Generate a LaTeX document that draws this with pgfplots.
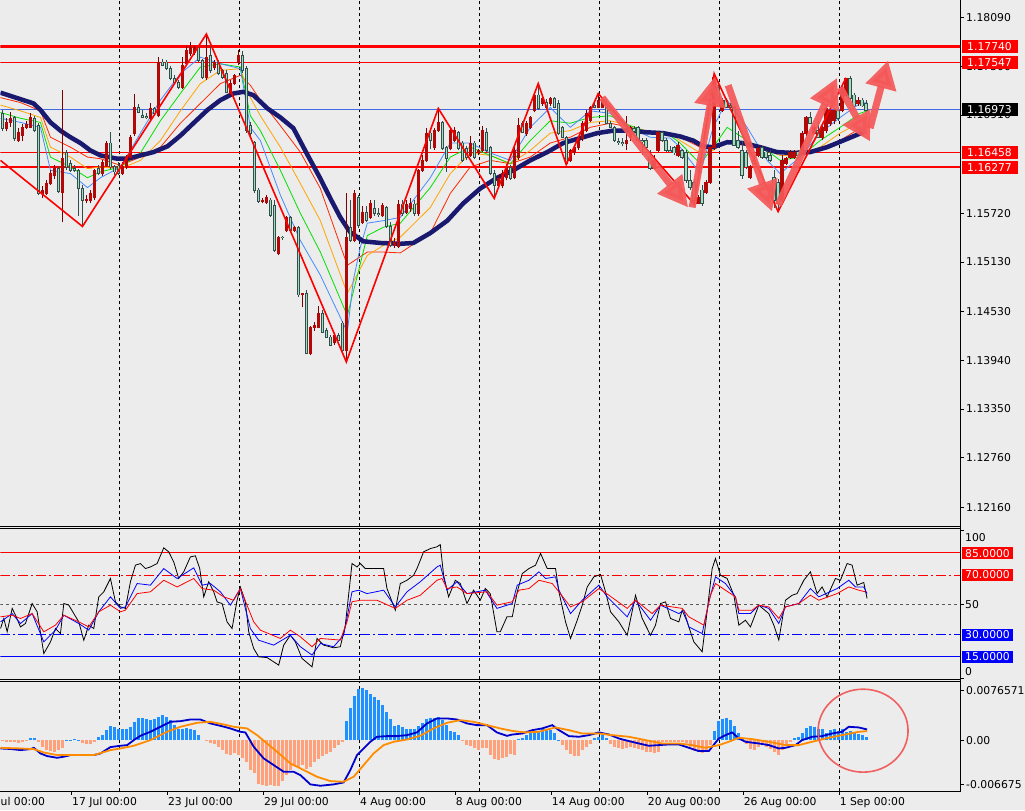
\documentclass[border=0pt]{standalone}
\usepackage{pgfplots}
\pgfplotsset{compat=1.18}
\usepackage{pgfplotstable}
\usepackage{fontspec}
\setmainfont{DejaVu Sans}
\usetikzlibrary{arrows.meta}
\definecolor{bgc}{RGB}{236,236,236}
\definecolor{bullc}{RGB}{178,8,8}
\definecolor{bullw}{RGB}{125,0,0}
\definecolor{bearc}{RGB}{165,220,185}
\definecolor{bearw}{RGB}{47,79,79}
\definecolor{navyma}{RGB}{25,25,112}
\definecolor{rbblue}{RGB}{70,140,255}
\definecolor{rbgreen}{RGB}{0,225,0}
\definecolor{rborange}{RGB}{255,165,0}
\definecolor{rbred}{RGB}{255,40,0}
\definecolor{arrowc}{RGB}{245,88,88}
\definecolor{lvlblue}{RGB}{65,105,225}
\definecolor{macdline}{RGB}{0,0,205}
\definecolor{sigline}{RGB}{255,140,0}
\definecolor{histpos}{RGB}{30,144,255}
\definecolor{histneg}{RGB}{255,160,122}
\definecolor{circc}{RGB}{240,96,96}
\newcommand\labfont{\fontsize{10.8pt}{13pt}\selectfont}
\pgfplotsset{mt/.style={
  anchor=north west, scale only axis, width=960pt,
  xmin=-0.5, xmax=239.5,
  axis line style={draw=none},
  tick align=outside, major tick length=4pt,
  tick style={black, line width=0.8pt},
  ytick pos=right, yticklabel pos=right,
  xtick=\empty,
  extra x ticks={29.25,59.25,89.25,119.25,149.25,179.25,209.25},
  extra x tick labels={},
  extra x tick style={grid=major, major tick length=0pt},
  major grid style={black, line width=0.8pt, dash pattern=on 3pt off 3pt},
  yticklabel style={font=\labfont, inner sep=0pt, anchor=west, xshift=2pt},
  scaled y ticks=false,
}}
% bearish candles (close below open): index, open, high, low, close
\pgfplotstableread{
xi op hi lo cl
0 1.1693 1.1697 1.1671 1.1675
3 1.1688 1.1690 1.1660 1.1663
8 1.1687 1.1690 1.1670 1.1672
9 1.1678 1.1681 1.1594 1.1596
14 1.1626 1.1629 1.1596 1.1598
16 1.1645 1.1648 1.1624 1.1627
17 1.1632 1.1636 1.1622 1.1624
18 1.1626 1.1630 1.1622 1.1624
19 1.1624 1.1626 1.1569 1.1602
20 1.1602 1.1606 1.1556 1.1588
24 1.1626 1.1630 1.1618 1.1620
27 1.1657 1.1670 1.1626 1.1628
28 1.1628 1.1630 1.1618 1.1622
29 1.1629 1.1634 1.1618 1.1620
34 1.1700 1.1704 1.1693 1.1694
35 1.1690 1.1697 1.1687 1.1688
36 1.1689 1.1693 1.1686 1.1688
38 1.1699 1.1701 1.1690 1.1693
40 1.1755 1.1759 1.1750 1.1751
41 1.1755 1.1757 1.1745 1.1747
42 1.1747 1.1750 1.1733 1.1735
43 1.1735 1.1739 1.1729 1.1730
44 1.1730 1.1733 1.1723 1.1724
49 1.1773 1.1776 1.1755 1.1757
50 1.1757 1.1759 1.1735 1.1736
52 1.1763 1.1775 1.1742 1.1745
54 1.1755 1.1757 1.1739 1.1741
55 1.1745 1.1747 1.1735 1.1736
56 1.1741 1.1745 1.1717 1.1718
60 1.1763 1.1769 1.1742 1.1745
61 1.1747 1.1750 1.1669 1.1672
62 1.1678 1.1682 1.1666 1.1669
63 1.1658 1.1660 1.1596 1.1600
64 1.1600 1.1602 1.1585 1.1586
67 1.1588 1.1590 1.1568 1.1569
68 1.1581 1.1588 1.1525 1.1527
70 1.1543 1.1545 1.1539 1.1543
72 1.1567 1.1569 1.1550 1.1551
74 1.1555 1.1557 1.1471 1.1473
76 1.1475 1.1479 1.1401 1.1402
80 1.1451 1.1455 1.1427 1.1428
81 1.1430 1.1433 1.1421 1.1422
82 1.1422 1.1424 1.1411 1.1412
84 1.1424 1.1427 1.1417 1.1418
85 1.1439 1.1442 1.1405 1.1406
87 1.1555 1.1588 1.1537 1.1539
89 1.1591 1.1594 1.1554 1.1557
91 1.1573 1.1581 1.1561 1.1563
93 1.1578 1.1588 1.1569 1.1572
94 1.1572 1.1578 1.1568 1.1571
96 1.1579 1.1581 1.1554 1.1556
97 1.1556 1.1561 1.1531 1.1533
100 1.1583 1.1588 1.1569 1.1572
103 1.1583 1.1588 1.1569 1.1572
107 1.1669 1.1672 1.1650 1.1660
110 1.1682 1.1684 1.1648 1.1650
111 1.1652 1.1654 1.1622 1.1638
114 1.1670 1.1672 1.1648 1.1650
115 1.1657 1.1660 1.1634 1.1636
116 1.1650 1.1654 1.1636 1.1640
118 1.1657 1.1660 1.1638 1.1640
121 1.1670 1.1675 1.1646 1.1648
122 1.1652 1.1654 1.1618 1.1620
123 1.1620 1.1624 1.1590 1.1606
127 1.1627 1.1630 1.1612 1.1614
130 1.1681 1.1684 1.1670 1.1670
134 1.1715 1.1729 1.1697 1.1699
136 1.1706 1.1710 1.1699 1.1700
138 1.1711 1.1713 1.1699 1.1700
139 1.1705 1.1709 1.1667 1.1669
140 1.1676 1.1678 1.1663 1.1664
141 1.1664 1.1666 1.1631 1.1632
148 1.1702 1.1705 1.1699 1.1700
151 1.1705 1.1709 1.1680 1.1681
152 1.1681 1.1684 1.1675 1.1676
153 1.1676 1.1678 1.1658 1.1660
154 1.1659 1.1663 1.1655 1.1658
155 1.1658 1.1663 1.1653 1.1657
158 1.1675 1.1678 1.1669 1.1671
159 1.1676 1.1678 1.1658 1.1660
160 1.1660 1.1663 1.1642 1.1659
161 1.1660 1.1663 1.1648 1.1652
162 1.1640 1.1648 1.1624 1.1626
165 1.1670 1.1672 1.1658 1.1660
166 1.1660 1.1663 1.1646 1.1648
167 1.1648 1.1654 1.1646 1.1647
168 1.1652 1.1654 1.1642 1.1645
170 1.1648 1.1650 1.1638 1.1640
171 1.1645 1.1648 1.1609 1.1612
172 1.1612 1.1624 1.1600 1.1603
173 1.1609 1.1614 1.1583 1.1588
175 1.1600 1.1606 1.1581 1.1584
179 1.1724 1.1727 1.1706 1.1709
181 1.1709 1.1711 1.1699 1.1700
182 1.1702 1.1706 1.1699 1.1700
183 1.1700 1.1702 1.1653 1.1654
184 1.1660 1.1672 1.1650 1.1652
185 1.1648 1.1660 1.1614 1.1618
186 1.1645 1.1648 1.1626 1.1628
188 1.1636 1.1642 1.1630 1.1632
190 1.1652 1.1654 1.1638 1.1640
191 1.1646 1.1648 1.1638 1.1640
192 1.1642 1.1648 1.1634 1.1636
193 1.1615 1.1624 1.1578 1.1588
194 1.1609 1.1614 1.1574 1.1584
199 1.1646 1.1648 1.1641 1.1642
202 1.1688 1.1694 1.1680 1.1681
204 1.1672 1.1684 1.1663 1.1664
209 1.1697 1.1699 1.1684 1.1687
212 1.1735 1.1738 1.1709 1.1711
213 1.1715 1.1717 1.1701 1.1702
215 1.1709 1.1712 1.1701 1.1702
216 1.1705 1.1709 1.1694 1.1697
}\bearcandles
% bullish candles (close above open): index, open, high, low, close
\pgfplotstableread{
xi op hi lo cl
1 1.1675 1.1687 1.1671 1.1682
2 1.1682 1.1694 1.1677 1.1687
4 1.1660 1.1675 1.1658 1.1670
5 1.1666 1.1680 1.1659 1.1676
6 1.1676 1.1684 1.1674 1.1680
7 1.1676 1.1693 1.1675 1.1688
10 1.1596 1.1605 1.1591 1.1600
11 1.1596 1.1612 1.1594 1.1608
12 1.1608 1.1624 1.1606 1.1620
13 1.1618 1.1630 1.1614 1.1626
15 1.1597 1.1721 1.1561 1.1638
21 1.1588 1.1594 1.1584 1.1589
22 1.1588 1.1600 1.1585 1.1596
23 1.1591 1.1626 1.1588 1.1624
25 1.1620 1.1636 1.1617 1.1634
26 1.1630 1.1660 1.1628 1.1657
30 1.1620 1.1634 1.1618 1.1628
31 1.1628 1.1642 1.1625 1.1640
32 1.1640 1.1667 1.1637 1.1664
33 1.1669 1.1716 1.1666 1.1700
37 1.1687 1.1705 1.1684 1.1699
39 1.1690 1.1761 1.1688 1.1755
45 1.1724 1.1761 1.1722 1.1751
46 1.1753 1.1775 1.1751 1.1769
47 1.1766 1.1779 1.1763 1.1773
48 1.1767 1.1775 1.1764 1.1773
51 1.1736 1.1789 1.1733 1.1761
53 1.1749 1.1757 1.1745 1.1755
57 1.1717 1.1733 1.1715 1.1729
58 1.1729 1.1741 1.1727 1.1739
59 1.1755 1.1770 1.1752 1.1763
65 1.1586 1.1590 1.1584 1.1588
66 1.1585 1.1594 1.1583 1.1591
69 1.1523 1.1545 1.1521 1.1543
71 1.1551 1.1569 1.1549 1.1567
73 1.1551 1.1557 1.1549 1.1555
75 1.1473 1.1476 1.1458 1.1475
77 1.1402 1.1436 1.1400 1.1434
78 1.1434 1.1440 1.1430 1.1436
79 1.1434 1.1460 1.1433 1.1451
83 1.1415 1.1427 1.1412 1.1424
86 1.1406 1.1597 1.1392 1.1543
88 1.1539 1.1600 1.1537 1.1596
90 1.1561 1.1581 1.1559 1.1573
92 1.1567 1.1588 1.1565 1.1584
95 1.1569 1.1584 1.1567 1.1581
98 1.1533 1.1542 1.1530 1.1537
99 1.1532 1.1588 1.1530 1.1583
101 1.1573 1.1588 1.1571 1.1583
102 1.1578 1.1590 1.1574 1.1584
104 1.1572 1.1626 1.1569 1.1624
105 1.1624 1.1642 1.1622 1.1636
106 1.1636 1.1675 1.1634 1.1669
108 1.1652 1.1675 1.1649 1.1672
109 1.1672 1.1699 1.1670 1.1682
112 1.1650 1.1677 1.1648 1.1672
113 1.1660 1.1677 1.1658 1.1672
117 1.1642 1.1666 1.1640 1.1657
119 1.1645 1.1650 1.1642 1.1648
120 1.1648 1.1678 1.1646 1.1672
124 1.1606 1.1618 1.1603 1.1614
125 1.1606 1.1624 1.1602 1.1620
126 1.1615 1.1632 1.1612 1.1627
128 1.1615 1.1654 1.1613 1.1648
129 1.1640 1.1687 1.1637 1.1678
131 1.1669 1.1684 1.1666 1.1681
132 1.1676 1.1690 1.1674 1.1688
133 1.1697 1.1717 1.1694 1.1715
135 1.1705 1.1713 1.1702 1.1711
137 1.1705 1.1713 1.1702 1.1711
142 1.1636 1.1650 1.1634 1.1648
143 1.1646 1.1654 1.1643 1.1652
144 1.1652 1.1665 1.1649 1.1663
145 1.1663 1.1684 1.1660 1.1681
146 1.1672 1.1697 1.1670 1.1693
147 1.1684 1.1702 1.1682 1.1700
149 1.1700 1.1717 1.1699 1.1709
150 1.1700 1.1711 1.1699 1.1709
156 1.1657 1.1690 1.1648 1.1660
157 1.1664 1.1678 1.1660 1.1676
163 1.1626 1.1642 1.1624 1.1636
164 1.1648 1.1672 1.1646 1.1670
169 1.1642 1.1658 1.1640 1.1654
174 1.1584 1.1594 1.1583 1.1591
176 1.1597 1.1612 1.1595 1.1609
177 1.1609 1.1654 1.1607 1.1652
178 1.1652 1.1741 1.1649 1.1736
180 1.1697 1.1711 1.1694 1.1709
187 1.1615 1.1630 1.1613 1.1628
189 1.1642 1.1654 1.1640 1.1650
195 1.1588 1.1642 1.1585 1.1636
196 1.1632 1.1640 1.1630 1.1638
197 1.1640 1.1648 1.1638 1.1646
198 1.1640 1.1648 1.1638 1.1646
200 1.1645 1.1672 1.1642 1.1669
201 1.1669 1.1690 1.1666 1.1688
203 1.1669 1.1678 1.1668 1.1676
205 1.1664 1.1678 1.1661 1.1676
206 1.1672 1.1702 1.1669 1.1699
207 1.1681 1.1699 1.1678 1.1697
208 1.1684 1.1699 1.1680 1.1696
210 1.1697 1.1727 1.1694 1.1723
211 1.1715 1.1736 1.1713 1.1735
214 1.1705 1.1713 1.1702 1.1709
}\bullcandles
\pgfplotstableread{
i v
0 -0.0001
1 -0.0002
2 -0.0002
3 -0.0003
4 -0.0004
5 -0.0003
6 -0.0001
7 0.0003
8 0.0003
9 -0.0002
10 -0.0010
11 -0.0014
12 -0.0016
13 -0.0017
14 -0.0015
15 -0.0012
16 0.00005
17 0.0001
18 0.0002
19 0.0001
20 -0.0004
21 -0.0006
22 -0.0006
23 -0.0003
24 0.0005
25 0.0009
26 0.0016
27 0.0022
28 0.0020
29 0.0018
30 0.0017
31 0.0017
32 0.0021
33 0.0028
34 0.0034
35 0.0034
36 0.0032
37 0.0031
38 0.0033
39 0.0036
40 0.0039
41 0.0036
42 0.0031
43 0.0024
44 0.0018
45 0.0017
46 0.0019
47 0.0018
48 0.0016
49 0.0009
50 0
51 -0.0001
52 -0.0004
53 -0.0006
54 -0.0010
55 -0.0014
56 -0.0020
57 -0.0022
58 -0.0019
59 -0.0022
60 -0.0027
61 -0.0033
62 -0.0045
63 -0.0050
64 -0.0066
65 -0.0068
66 -0.0069
67 -0.0068
68 -0.0070
69 -0.0069
70 -0.0062
71 -0.0053
72 -0.0045
73 -0.0038
74 -0.0040
75 -0.0037
76 -0.0044
77 -0.0040
78 -0.0033
79 -0.0028
80 -0.0023
81 -0.0020
82 -0.0018
83 -0.0012
84 -0.0007
85 -0.0002
86 0.0030
87 0.0050
88 0.0068
89 0.0078
90 0.0080
91 0.0077
92 0.0071
93 0.0066
94 0.0061
95 0.0054
96 0.0044
97 0.0033
98 0.0022
99 0.0023
100 0.0021
101 0.0018
102 0.0017
103 0.0018
104 0.0022
105 0.0027
106 0.0033
107 0.0034
108 0.0034
109 0.0036
110 0.0031
111 0.0024
112 0.0015
113 0.0013
114 0.0008
115 -0.0001
116 -0.0007
117 -0.0009
118 -0.0011
119 -0.0014
120 -0.0012
121 -0.0011
122 -0.0022
123 -0.0029
124 -0.0030
125 -0.0027
126 -0.0025
127 -0.0020
128 -0.0022
129 0.0002
130 0.0003
131 0.0008
132 0.0011
133 0.0013
134 0.0014
135 0.0018
136 0.0018
137 0.0016
138 0.0011
139 0.0001
140 -0.0007
141 -0.0015
142 -0.0021
143 -0.0023
144 -0.0023
145 -0.0015
146 -0.0010
147 -0.0005
148 0.0003
149 0.0005
150 0.0008
151 0.0003
152 -0.0005
153 -0.0010
154 -0.0012
155 -0.0013
156 -0.0012
157 -0.0010
158 -0.0012
159 -0.0013
160 -0.0014
161 -0.0017
162 -0.0018
163 -0.0019
164 -0.0018
165 -0.0003
166 -0.0003
167 -0.0002
168 -0.0003
169 -0.0002
170 -0.0003
171 -0.0004
172 -0.0010
173 -0.0016
174 -0.0018
175 -0.0019
176 -0.0015
177 -0.0007
178 0.0014
179 0.0029
180 0.0033
181 0.0034
182 0.0031
183 0.0022
184 0.0012
185 0.0003
186 -0.0005
187 -0.0013
188 -0.0015
189 -0.0010
190 -0.0007
191 -0.0010
192 -0.0013
193 -0.0018
194 -0.0022
195 -0.0015
196 -0.0008
197 -0.0003
198 0.0003
199 0.0005
200 0.0012
201 0.0019
202 0.0022
203 0.0021
204 0.0018
205 0.0017
206 0.0011
207 0.0016
208 0.0017
209 0.0014
210 0.0017
211 0.0013
212 0.0015
213 0.0012
214 0.0010
215 0.0008
216 0.0005
}\macdhisttab
\begin{document}
\begin{tikzpicture}
\fill[bgc] (0pt,0pt) rectangle (1025pt,-810pt);
% ---------------- main price panel
\begin{axis}[mt, at={(0pt,0pt)}, height=526pt, ymin=1.11930, ymax=1.18296,
  ytick={1.12160,1.12760,1.13350,1.13940,1.14530,1.15130,1.15720,1.16910,1.17500,1.18090},
  yticklabels={1.12160,1.12760,1.13350,1.13940,1.14530,1.15130,1.15720,1.16910,1.17500,1.18090}]
\addplot[red, line width=2.2pt] coordinates {(-0.5,1.17740) (239.5,1.17740)};
\addplot[red, line width=1pt] coordinates {(-0.5,1.17547) (239.5,1.17547)};
\addplot[lvlblue, line width=0.9pt] coordinates {(-0.5,1.16973) (239.5,1.16973)};
\addplot[red, line width=1pt] coordinates {(-0.5,1.16458) (239.5,1.16458)};
\addplot[red, line width=2.2pt] coordinates {(-0.5,1.16277) (239.5,1.16277)};
\addplot[rbred, line width=0.8pt] coordinates {(-0.5,1.1712)(4.5,1.1706)(9.5,1.1696)(12,1.1664)(17,1.1652)(21.25,1.1640)(24.5,1.1638)(29.5,1.1630)(34.5,1.1640)(39.5,1.1652)(44.5,1.1681)(49.5,1.1705)(54.5,1.1729)(59.5,1.1739)(62,1.1727)(64.5,1.1709)(69.5,1.1678)(74.5,1.1646)(79.5,1.1602)(86.25,1.1509)(91.25,1.1525)(95.25,1.1525)(99.5,1.1524)(107,1.1548)(112,1.1596)(117,1.1628)(122,1.1636)(127,1.1632)(132,1.1640)(137,1.1657)(142,1.1664)(147,1.1676)(152,1.1681)(157,1.1676)(162,1.1670)(167,1.1666)(169.5,1.1664)(174.5,1.1652)(177.75,1.1654)(181.25,1.1657)(186.25,1.1654)(191.25,1.1648)(194.5,1.1645)(199.5,1.1642)(204.5,1.1651)(209.5,1.1660)(214.5,1.1675)(216.25,1.1676)};
\addplot[rborange, line width=0.8pt] coordinates {(-0.5,1.1703)(4.5,1.1696)(9.5,1.1688)(12,1.1652)(17,1.1640)(21.25,1.1626)(24.5,1.1628)(29.5,1.1626)(34.5,1.1636)(39.5,1.1660)(44.5,1.1696)(49.5,1.1729)(54.5,1.1745)(59.5,1.1747)(62,1.1712)(64.5,1.1690)(69.5,1.1652)(74.5,1.1608)(79.5,1.1563)(86.25,1.1475)(91.25,1.1521)(95.25,1.1533)(99.5,1.1543)(107,1.1579)(112,1.1620)(117,1.1645)(122,1.1642)(127,1.1632)(132,1.1648)(137,1.1669)(142,1.1672)(147,1.1682)(152,1.1684)(157,1.1678)(162,1.1670)(167,1.1669)(169.5,1.1660)(174.5,1.1645)(177.75,1.1648)(181.25,1.1660)(186.25,1.1657)(191.25,1.1648)(194.5,1.1642)(199.5,1.1642)(204.5,1.1652)(209.5,1.1669)(214.5,1.1682)(216.25,1.1687)};
\addplot[rbgreen, line width=0.8pt] coordinates {(-0.5,1.1694)(4.5,1.1687)(9.5,1.1682)(12,1.1640)(17,1.1628)(21.25,1.1615)(24.5,1.1622)(29.5,1.1628)(34.5,1.1645)(39.5,1.1684)(44.5,1.1717)(49.5,1.1749)(54.5,1.1753)(59.5,1.1749)(62,1.1690)(64.5,1.1672)(69.5,1.1624)(74.5,1.1572)(79.5,1.1525)(86.25,1.1448)(91.25,1.1545)(95.25,1.1555)(99.5,1.1560)(107,1.1603)(112,1.1640)(117,1.1652)(122,1.1642)(127,1.1632)(132,1.1660)(137,1.1684)(142,1.1681)(147,1.1688)(152,1.1690)(157,1.1678)(162,1.1669)(167,1.1666)(169.5,1.1657)(174.5,1.1632)(177.75,1.1652)(181.25,1.1676)(186.25,1.1660)(191.25,1.1648)(194.5,1.1636)(199.5,1.1640)(204.5,1.1660)(209.5,1.1676)(214.5,1.1693)(216.25,1.1696)};
\addplot[rbblue, line width=0.8pt] coordinates {(-0.5,1.1687)(4.5,1.1682)(9.5,1.1676)(12,1.1624)(17,1.1620)(21.25,1.1603)(24.5,1.1615)(29.5,1.1628)(34.5,1.1669)(39.5,1.1709)(44.5,1.1741)(49.5,1.1761)(54.5,1.1753)(59.5,1.1747)(62,1.1676)(64.5,1.1660)(69.5,1.1594)(74.5,1.1539)(79.5,1.1497)(86.25,1.1428)(87.75,1.1491)(89.5,1.1531)(91.25,1.1560)(95.25,1.1563)(99.5,1.1567)(107,1.1615)(112,1.1657)(117,1.1657)(122,1.1645)(127,1.1636)(132,1.1676)(137,1.1700)(142,1.1676)(147,1.1696)(152,1.1693)(157,1.1676)(162,1.1664)(167,1.1663)(169.5,1.1652)(174.5,1.1620)(177.75,1.1676)(181.25,1.1709)(186.25,1.1676)(191.25,1.1636)(194.5,1.1620)(199.5,1.1640)(204.5,1.1669)(209.5,1.1688)(214.5,1.1705)(216.25,1.1706)};
\addplot[navyma, line width=4.5pt] coordinates {(-0.5,1.1718)(7.75,1.1705)(9.5,1.1697)(12,1.1682)(14.5,1.1672)(17,1.1664)(19.5,1.1657)(22,1.1648)(24.5,1.1642)(28.75,1.1638)(31.25,1.1638)(34.5,1.1642)(37.75,1.1646)(41.25,1.1653)(44.5,1.1666)(47.75,1.1681)(51.25,1.1697)(54.5,1.1709)(57.75,1.1717)(60.25,1.1719)(62.75,1.1715)(66.25,1.1699)(69.5,1.1688)(72.75,1.1675)(76.25,1.1643)(79.5,1.1614)(82,1.1590)(84.5,1.1567)(86.25,1.1554)(87,1.1549)(90.25,1.1538)(94.5,1.1536)(99.5,1.1535)(102.75,1.1536)(107,1.1548)(111.25,1.1563)(115.25,1.1584)(119.5,1.1602)(123.75,1.1615)(127.75,1.1624)(132,1.1636)(136.25,1.1646)(140.25,1.1657)(144.5,1.1663)(148.75,1.1669)(152.75,1.1672)(157,1.1672)(161.25,1.1670)(165.25,1.1669)(169.5,1.1665)(172.75,1.1660)(175.25,1.1653)(177.75,1.1652)(181.25,1.1658)(185.25,1.1657)(189.5,1.1652)(193.75,1.1646)(197.75,1.1645)(202,1.1646)(206.25,1.1652)(210.25,1.1660)(215.25,1.1670)};
% candles: wicks (low to high)
\addplot[bearw, line width=1pt, mark=none, quiver={u=0, v=\thisrow{hi}-\thisrow{lo}}] table[x=xi, y=lo] {\bearcandles};
\addplot[bullw, line width=1pt, mark=none, quiver={u=0, v=\thisrow{hi}-\thisrow{lo}}] table[x=xi, y=lo] {\bullcandles};
% candles: bodies (open to close)
\addplot[bearw, line width=3.4pt, mark=none, quiver={u=0, v=\thisrow{cl}-\thisrow{op}-0.00012}] table[x=xi, y expr={\thisrow{op}+0.00006}] {\bearcandles};
\addplot[bearc, line width=1.4pt, mark=none, quiver={u=0, v=\thisrow{cl}-\thisrow{op}+0.00008}] table[x=xi, y expr={\thisrow{op}-0.00004}] {\bearcandles};
\addplot[bullc, line width=3.4pt, mark=none, quiver={u=0, v=\thisrow{cl}-\thisrow{op}+0.00012}] table[x=xi, y expr={\thisrow{op}-0.00006}] {\bullcandles};
\addplot[red, line width=1.6pt] coordinates {(-0.5,1.1636)(20,1.1556)(51,1.1789)(86,1.1392)(109,1.1699)(123,1.1590)(134,1.1729)(141,1.1631)(149,1.1717)(173,1.1583)(178,1.1741)(194,1.1574)(211,1.1736)};
\addplot[arrowc, opacity=0.92, line width=7pt, -{Triangle[length=30pt,width=30pt]}] coordinates {(150,1.1712) (171.5,1.1579)};
\addplot[arrowc, opacity=0.92, line width=7pt, -{Triangle[length=30pt,width=30pt]}] coordinates {(172.5,1.1579) (178.25,1.1738)};
\addplot[arrowc, opacity=0.92, line width=7pt, -{Triangle[length=30pt,width=30pt]}] coordinates {(181.5,1.1727) (192.5,1.1574)};
\addplot[arrowc, opacity=0.92, line width=7pt, -{Triangle[length=30pt,width=30pt]}] coordinates {(194,1.1582) (208.75,1.1736)};
\addplot[arrowc, opacity=0.92, line width=7pt, -{Triangle[length=28pt,width=30pt]}] coordinates {(209.5,1.1724) (217,1.1659)};
\addplot[arrowc, opacity=0.92, line width=7pt, -{Triangle[length=28pt,width=30pt]}] coordinates {(217,1.1675) (221.5,1.1757)};
\end{axis}
% ---------------- stochastic panel
\begin{axis}[mt, at={(0pt,-528.5pt)}, height=150.5pt, ymin=-0.3, ymax=101.3,
  ytick={0,50,100}, yticklabels={,,}]
\addplot[red, line width=1pt] coordinates {(-0.5,85) (239.5,85)};
\addplot[red, line width=1pt, dash pattern=on 10pt off 3pt on 2pt off 3pt] coordinates {(-0.5,70) (239.5,70)};
\addplot[black!65, line width=0.8pt, dash pattern=on 3pt off 3pt] coordinates {(-0.5,50) (239.5,50)};
\addplot[blue, line width=1pt, dash pattern=on 10pt off 3pt on 2pt off 3pt] coordinates {(-0.5,30) (239.5,30)};
\addplot[blue, line width=1pt] coordinates {(-0.5,15) (239.5,15)};
\addplot[black, line width=0.8pt] coordinates {(-0.5,33.9)(0.33,40.7)(1.17,31.7)(2.42,47.5)(3.25,42.9)(4.5,35)(5.75,37.3)(7.42,50.8)(8.67,45.2)(10.33,17)(12,24.9)(13.25,33.9)(14.5,30.5)(15.33,50.8)(16.58,49.7)(19.08,38.4)(20.33,26)(21.58,36.2)(22.83,33.9)(24.08,55.3)(25.33,58.7)(27,67.7)(28.25,51.9)(29.5,48.5)(30.75,47.5)(32,65.5)(33.25,76.7)(34.5,77.8)(35.75,74.4)(37,75.5)(38.67,77.8)(40.33,88.4)(41.58,85.7)(42.83,78.9)(44.08,67.7)(45.33,72.2)(47,82.3)(48.25,83)(49.33,74.4)(50.33,55.3)(51.58,65.5)(52.83,58.7)(53.67,51.9)(54.92,50.8)(56.17,38.4)(57.42,33.9)(58.67,53)(59.5,62)(60.75,51.9)(61.58,31.7)(62.83,20.4)(64.08,14.8)(66.17,14.3)(67.83,11.4)(69.08,9.2)(70.33,22.7)(72,29.4)(73.25,24.9)(74.92,13.7)(77.42,8)(78.67,27.2)(80.33,22.7)(82.83,20.9)(84.5,21.6)(85.75,36.2)(87.42,77.8)(88.67,75.5)(89.5,77.8)(90.75,74.4)(92.83,74.4)(95.33,74.4)(96.17,60.9)(98.25,46.3)(99.5,64.3)(101.17,66.5)(102.83,69.9)(103.67,74.4)(105.33,85.7)(107,87.9)(108.67,89.1)(109.5,90.6)(110.33,69.9)(111.58,55.3)(113.25,66.5)(114.5,64.3)(116.17,50.8)(117.83,59.8)(119.5,53)(120.75,60.9)(122,57.5)(123.67,31.7)(124.5,31.7)(126.17,41.8)(127.5,41.8)(128.75,58.7)(130,71)(131.67,74.4)(133.33,76.7)(134.58,84.6)(136.25,74.4)(138.33,74.4)(139.17,58.7)(140.83,38.4)(142.08,27.2)(143.75,39.5)(145,49.7)(146.25,62)(147.92,68.8)(149.58,70.4)(150.83,58.7)(152.08,45.2)(154.17,38.4)(156.25,29.4)(158.33,56.4)(160,40.7)(162.08,29.4)(163.33,36.2)(164.58,50.8)(165.83,51.9)(167.08,40.7)(169.17,38.4)(170,46.3)(171.25,38.4)(172.92,24.9)(175,18.2)(175.83,36.2)(177.5,74.4)(178.33,81.2)(179.58,69.9)(181.25,67.7)(182.92,56.4)(184.17,36.2)(185.83,39.5)(187.08,35)(189.17,49.7)(191.67,44)(192.92,36.2)(194.17,26.1)(195.83,53)(197.5,56.4)(198.75,57.5)(200.42,66.5)(202.08,72.2)(203.75,57.5)(205,62)(206.25,55.3)(208.33,67.7)(209.58,66.5)(211.25,77.8)(212.5,76.7)(213.75,63.2)(215.42,65)(216.25,54.2)};
\addplot[blue, line width=0.8pt] coordinates {(-0.5,38.4)(2.42,44)(4.5,37.3)(7.42,44)(10.33,24.9)(13.25,32.8)(15.33,42.9)(19.08,37.3)(21.58,32.8)(24.08,45.2)(27,55.3)(29.5,47.5)(30.75,48.5)(33.67,64.3)(37,63.2)(40.33,74.4)(43.67,67.7)(47.83,74.9)(49.92,63.2)(52,64.3)(54.5,58.7)(57,49.7)(59.5,60.9)(62,33.9)(64.08,26)(67.83,22.7)(72,29.4)(74.5,21.6)(77.42,16)(79.5,23.8)(82.83,21.6)(85.33,29.4)(87.42,58.7)(89.08,59.8)(91.17,57.5)(95.33,59.8)(98.25,48.5)(101.17,58.7)(104.5,65.5)(108.67,75.5)(109.5,76.7)(111.17,59.8)(113.67,65.5)(116.17,57.5)(120.75,59.8)(123.67,47.5)(127.5,50.8)(128.75,63.2)(131.67,66.5)(134.17,72.2)(135.83,67.7)(138.33,68.8)(139.17,59.8)(142.08,44)(145,53)(149.17,63.2)(151.25,55.3)(156.25,41.8)(158.33,53)(162.08,39.5)(164.58,49.7)(169.17,44)(170.42,46.3)(171.67,35)(175,30.5)(176.67,51.9)(178.33,68.8)(180.83,64.3)(183.33,55.3)(184.17,44)(187.08,44)(189.17,49.7)(191.67,47.5)(194.17,37.3)(195.83,48.5)(199.17,50.8)(202.08,60.9)(204.17,55.3)(208.75,60.9)(211.67,66.5)(213.33,62)(215.42,62)(216.25,57.5)};
\addplot[red, line width=0.8pt] coordinates {(-0.5,41.8)(2.42,42.9)(4.5,40.7)(7.42,44)(10.33,31.7)(13.25,36.2)(15.33,42.9)(19.08,38.4)(21.58,35)(24.08,45.2)(27,49.7)(29.5,45.2)(30.75,46.3)(33.67,57.5)(37,58.7)(40.33,66.5)(43.67,62)(47.83,67.7)(49.92,60.9)(52.83,59.8)(55.33,55.3)(57.83,53)(59.5,60.9)(62.83,38.4)(64.5,32.8)(69.5,27.2)(72,32.8)(74.5,28.3)(77.42,21.6)(79.5,27.2)(84.5,26.1)(86.17,38.4)(87.42,52)(89.5,53)(93.67,53)(98.25,47.5)(101.17,53)(104.5,56.4)(108.67,66.5)(109.92,67.7)(111.17,60.9)(113.67,62)(116.17,57.5)(121.17,58.7)(123.67,49.7)(127.5,52)(129.17,59.8)(131.67,60.9)(134.17,66.5)(137.5,64.3)(139.17,58.7)(142.08,48.5)(145,52)(149.17,60.9)(151.67,56.4)(156.25,47.5)(158.33,53)(162.5,44)(164.58,49.7)(170,47.5)(171.67,41.8)(175.42,36.2)(177.08,56.4)(178.33,64.3)(180.83,59.8)(183.33,55.3)(184.17,46.3)(187.5,46.3)(189.17,49.7)(191.67,48.5)(194.17,40.7)(195.83,48.5)(199.17,50.8)(202.08,56.4)(204.17,53)(208.75,57.5)(211.67,62)(214.17,59.8)(215.83,58.7)};
\end{axis}
% ---------------- MACD panel
\begin{axis}[mt, at={(0pt,-681pt)}, height=110pt, ymin=-0.007717, ymax=0.009026,
  ytick={-0.006675,0,0.0076571}, yticklabels={-0.006675,0.00,0.0076571},
  xtick={17.25,41.25,65.25,89.25,113.25,137.25,161.25,185.25,209.25},
  xticklabels={17 Jul 00:00,23 Jul 00:00,29 Jul 00:00,4 Aug 00:00,8 Aug 00:00,14 Aug 00:00,20 Aug 00:00,26 Aug 00:00,1 Sep 00:00},
  xtick pos=left,
  xticklabel style={font=\labfont, anchor=north west, inner sep=0pt, xshift=0.5pt, yshift=-2pt},
  yticklabel style={xshift=0pt}]
\addplot[ycomb, draw=histpos, line width=3pt, mark=none] table[x=i, y expr={max(\thisrow{v},0)}] {\macdhisttab};
\addplot[ycomb, draw=histneg, line width=3pt, mark=none] table[x=i, y expr={min(\thisrow{v},0)}] {\macdhisttab};
\addplot[macdline, line width=1.8pt] coordinates {(-0.5,-0.00122)(2,-0.0013)(4.5,-0.00147)(7,-0.00132)(7.83,-0.00112)(9.5,-0.00198)(11.17,-0.00238)(13.67,-0.00264)(15.33,-0.00248)(17,-0.00223)(19.5,-0.00223)(22.83,-0.00223)(24.5,-0.00198)(27,-0.00101)(29.5,-0.00081)(31.17,-0.00071)(32.83,0.00005)(34.5,0.00071)(37,0.00132)(39.5,0.00208)(42,0.00284)(44.5,0.00294)(47,0.00319)(49.5,0.00319)(52,0.00259)(54.5,0.00223)(57,0.00183)(59.5,0.00132)(60.75,0.00122)(62.83,-0.00096)(65.33,-0.00274)(67.83,-0.00375)(70.33,-0.00477)(72.83,-0.00477)(74.5,-0.00527)(77,-0.00669)(79.5,-0.0069)(82.83,-0.00669)(85.33,-0.00639)(87,-0.00451)(88.67,-0.00223)(90.33,-0.00122)(92,-0.0002)(93.67,0.00056)(96.17,0.00066)(98.67,0.00066)(101.17,0.00081)(103.67,0.00122)(106.17,0.00259)(108.67,0.00335)(111.17,0.00335)(113.67,0.00319)(116.17,0.00259)(118.67,0.00233)(121.17,0.00233)(123.67,0.00122)(126.17,0.0007)(127.5,0.0009)(130,0.00106)(132.5,0.00157)(135,0.00183)(137.5,0.00233)(139.17,0.00157)(141.67,0.00066)(144.17,0.00056)(146.67,0.00081)(149.17,0.00122)(151.67,0.00091)(154.17,0.0003)(156.67,-0.0001)(159.17,-0.00046)(161.67,-0.00081)(164.17,-0.00071)(166.67,-0.00061)(169.17,-0.00061)(171.67,-0.00112)(174.17,-0.00162)(176.67,-0.00162)(177.5,-0.00096)(179.17,0.0003)(180.83,0.00081)(182.5,0.00122)(184.17,0.0003)(185.83,-0.0002)(189.17,-0.00046)(191.67,-0.00071)(194.17,-0.00122)(195.83,-0.00112)(198.33,-0.00071)(200,0.00005)(202.5,0.00056)(205,0.00066)(207.5,0.00106)(210,0.00132)(211.67,0.00208)(214.17,0.00198)(216.25,0.00167)};
\addplot[sigline, line width=1.8pt] coordinates {(-0.5,-0.00112)(4.5,-0.00122)(7.83,-0.00132)(10.33,-0.00183)(13.67,-0.00223)(17,-0.00223)(22.83,-0.00223)(27,-0.00147)(29.5,-0.00122)(32.83,-0.00081)(37,0.00005)(41.17,0.00132)(44.5,0.00208)(48.67,0.00269)(52,0.00284)(55.33,0.00243)(57.83,0.00208)(61.17,0.00183)(63.67,0.00081)(66.17,-0.00046)(68.67,-0.00172)(72,-0.0035)(75.33,-0.00451)(78.67,-0.00553)(82,-0.00619)(85.33,-0.00629)(87.83,-0.00553)(90.33,-0.00375)(92.83,-0.00198)(95.33,-0.00071)(97.83,-0.0002)(101.17,0.00015)(104.5,0.00071)(107.83,0.00183)(111.17,0.00269)(114.5,0.00309)(117.83,0.00284)(121.17,0.00233)(124.5,0.00183)(127.5,0.00145)(130.83,0.00122)(134.17,0.00132)(138.33,0.00198)(141.67,0.00157)(145,0.00106)(149.17,0.00106)(152.5,0.00081)(156.67,0.00056)(160.83,0.00005)(165,-0.00046)(169.17,-0.00046)(172.5,-0.00071)(175.83,-0.00112)(179.17,-0.00071)(181.67,-0.0002)(184.17,0.00041)(187.5,0.0002)(191.67,-0.0002)(195.83,-0.00071)(199.17,-0.00071)(202.5,-0.0002)(206.67,0.00041)(210.83,0.00091)(214.17,0.00132)(216.25,0.00142)};
\draw[circc, line width=1.6pt] (axis cs:215.25,0.00149) ellipse [x radius=45pt, y radius=41.5pt];
\end{axis}
% ---------------- frames
\draw[black, line width=1pt] (0pt,-526pt) -- (960.5pt,-526pt);
\draw[black, line width=1pt] (0pt,-528.5pt) -- (960.5pt,-528.5pt);
\draw[black, line width=1pt] (0pt,-679pt) -- (960.5pt,-679pt);
\draw[black, line width=1pt] (0pt,-681pt) -- (960.5pt,-681pt);
\draw[black, line width=1pt] (0pt,-791pt) -- (960.5pt,-791pt);
\draw[black, line width=1pt] (960.5pt,0pt) -- (960.5pt,-791pt);
\node[font=\labfont, anchor=north west, inner sep=0pt] at (0pt,-797pt) {ul 00:00};
% ---------------- price boxes
\fill[red] (961.5pt,-39.5pt) rectangle (1018pt,-52.5pt);
\node[font=\labfont, text=white, anchor=west, inner sep=0pt] at (967pt,-46pt) {1.17740};
\fill[red] (961.5pt,-55.5pt) rectangle (1018pt,-68.5pt);
\node[font=\labfont, text=white, anchor=west, inner sep=0pt] at (967pt,-62pt) {1.17547};
\fill[black] (961.5pt,-102.8pt) rectangle (1018pt,-115.8pt);
\node[font=\labfont, text=white, anchor=west, inner sep=0pt] at (967pt,-109.3pt) {1.16973};
\fill[red] (961.5pt,-145.5pt) rectangle (1018pt,-158.5pt);
\node[font=\labfont, text=white, anchor=west, inner sep=0pt] at (967pt,-152pt) {1.16458};
\fill[red] (961.5pt,-160.3pt) rectangle (1018pt,-173.3pt);
\node[font=\labfont, text=white, anchor=west, inner sep=0pt] at (967pt,-166.8pt) {1.16277};
% ---------------- stochastic labels
\node[font=\labfont, anchor=west, inner sep=0pt] at (965pt,-537.3pt) {100};
\node[font=\labfont, anchor=west, inner sep=0pt] at (965pt,-604.3pt) {50};
\node[font=\labfont, anchor=west, inner sep=0pt] at (965pt,-671.7pt) {0};
\fill[red] (961.5pt,-547pt) rectangle (1013pt,-559pt);
\node[font=\labfont, text=white, anchor=west, inner sep=0pt] at (965pt,-553pt) {85.0000};
\fill[red] (961.5pt,-568.5pt) rectangle (1013pt,-580.5pt);
\node[font=\labfont, text=white, anchor=west, inner sep=0pt] at (965pt,-574.5pt) {70.0000};
\fill[blue] (961.5pt,-628.5pt) rectangle (1013pt,-640.5pt);
\node[font=\labfont, text=white, anchor=west, inner sep=0pt] at (965pt,-634.5pt) {30.0000};
\fill[blue] (961.5pt,-650.5pt) rectangle (1013pt,-662.5pt);
\node[font=\labfont, text=white, anchor=west, inner sep=0pt] at (965pt,-656.5pt) {15.0000};
\end{tikzpicture}
\end{document}
